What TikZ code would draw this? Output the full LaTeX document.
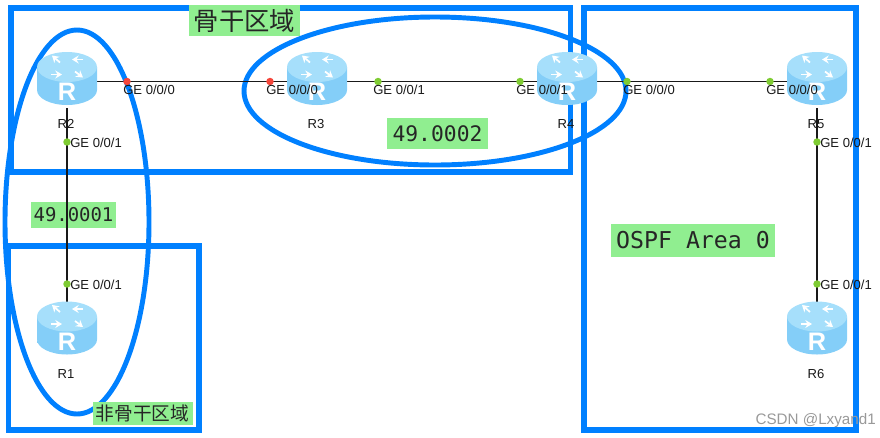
\documentclass[tikz,border=0pt]{standalone}
\usepackage{fontspec}
\setmainfont{Liberation Sans}
\setmonofont{DejaVu Sans Mono}
\newfontfamily\cjkfont{Noto Sans CJK SC}
\usepackage{tikz}
\usetikzlibrary{positioning, arrows.meta}
\definecolor{areablue}{HTML}{0080FF}
\definecolor{tagfill}{HTML}{90EE90}
\definecolor{portgreen}{HTML}{7FCC33}
\definecolor{portred}{HTML}{F5453A}
\definecolor{routeredge}{HTML}{84CEF8}
\definecolor{routermid}{HTML}{A0E4FF}
\definecolor{routertop}{HTML}{A6DFFB}

\begin{document}
\begin{tikzpicture}[
  x=0.75pt, y=-0.75pt,
  area/.style={draw=areablue, line width=4.1pt},
  ring/.style={draw=areablue, line width=3.7pt},
  tag/.style={fill=tagfill, inner sep=0pt, align=center, text=black!85},
  link/.style={black!90, line width=1.4pt},
  port/.style={circle, inner sep=0pt, minimum size=5.6pt},
  portlabel/.style={font=\fontsize{9.8pt}{10pt}\selectfont, anchor=west, inner sep=0pt, text=black!90},
  routerlabel/.style={font=\fontsize{9.8pt}{10pt}\selectfont, inner sep=0pt, text=black!90},
  routerbox/.style={minimum width=45pt, minimum height=40pt, inner sep=0pt},
]
  \useasboundingbox (0,0) rectangle (880,437);

  % Areas
  \draw[area] (11,8) rectangle (570.5,172);
  \draw[area] (8.5,246) rectangle (199,430);
  \draw[area] (584,8) rectangle (856,430);
  \draw[ring] (77,222) ellipse [x radius=72, y radius=192];
  \draw[ring] (435,91) ellipse [x radius=191, y radius=74];

  % Green tags
  \node[tag, font=\cjkfont\fontsize{19pt}{20pt}\selectfont, minimum width=83pt, minimum height=23pt] (backbone) at (244.5,20.5) {骨干区域};
  \node[tag, font=\cjkfont\fontsize{14pt}{15pt}\selectfont, minimum width=75pt, minimum height=17pt] (nonbackbone) at (142.5,413.5) {非骨干区域};
  \node[tag, font=\ttfamily\fontsize{14.2pt}{15pt}\selectfont, minimum width=64pt, minimum height=19pt] (net1) at (73.5,215) {49.0001};
  \node[tag, font=\ttfamily\fontsize{16pt}{17pt}\selectfont, minimum width=76pt, minimum height=23pt] (net2) at (437.5,133.5) {49.0002};
  \node[tag, font=\ttfamily\fontsize{17.4pt}{18pt}\selectfont, minimum width=123pt, minimum height=25pt] (ospf) at (693,240.5) {OSPF Area 0};

  % Routers
  \foreach \s/\x/\y in {r1/67/331, r2/67/81.5, r3/317/81.5, r4/567/81.5, r5/817/81.5, r6/817/331} {
    \node[routerbox] (\s) at (\x,\y) {};
  }

  % Links
  \draw[link] (r2) -- (r3);
  \draw[link] (r3) -- (r4);
  \draw[link] (r4) -- (r5);
  \draw[link] (r2) -- (r1);
  \draw[link] (r5) -- (r6);

  % Router bodies over the links
  \foreach \s in {r1,r2,r3,r4,r5,r6} {
    \begin{scope}[shift={(\s.center)}]
      \path[left color=routeredge, middle color=routermid, right color=routeredge]
        (-30,-14.5) -- (-30,8.5) arc [start angle=180, end angle=0, x radius=30, y radius=15] -- (30,-14.5) -- cycle;
      \path[fill=routertop] (0,-14.5) ellipse [x radius=30, y radius=15];
      \foreach \a/\b/\c/\d in {-7/-19/-15/-26, 16/-22/5/-22, 8/-10/16/-4, -16/-7/-5/-7} {
        \draw[white, line width=1.3pt, -{Stealth[length=5pt, width=6pt]}] (\a,\b) -- (\c,\d);
      }
      \node[font=\bfseries\fontsize{19pt}{20pt}\selectfont, text=white, inner sep=0pt] (\s-badge) at (0,10.5) {R};
    \end{scope}
  }

  % Ports
  \foreach \p/\x/\y in {pa/127/81.5, pb/270/81.5} {
    \node[port, fill=portred] (\p) at (\x,\y) {};
  }
  \foreach \p/\x/\y in {pc/378/81.5, pd/520/81.5, pe/627/81.5, pf/770/81.5, pg/67/142, ph/67/284, pi/817/142, pj/817/284} {
    \node[port, fill=portgreen] (\p) at (\x,\y) {};
  }

  % Port labels
  \foreach \l/\x/\t in {la/123/0, lb/266/0, lc/373/1, ld/516/1, le/623/0, lf/766/0} {
    \node[portlabel] (\l) at (\x,89.5) {GE 0/0/\t};
  }
  \foreach \l/\x/\y in {lg/70/143, lh/70/284.5, li/820/143, lj/820/284.5} {
    \node[portlabel] (\l) at (\x,\y) {GE 0/0/1};
  }

  % Router names
  \foreach \n/\x/\y/\t in {n1/66/374/R1, n2/66/124/R2, n3/316/124/R3, n4/566/124/R4, n5/816/124/R5, n6/816/374/R6} {
    \node[routerlabel] (\n) at (\x,\y) {\t};
  }

  \node[font=\fontsize{11.4pt}{12pt}\selectfont, text=black!40, anchor=east, inner sep=0pt] (mark) at (876,421) {CSDN @Lxyand1};
\end{tikzpicture}
\end{document}
